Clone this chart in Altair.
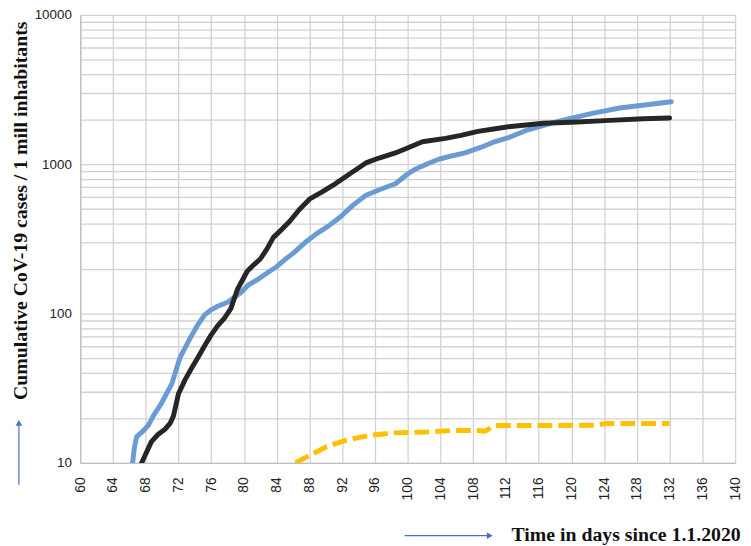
import altair as alt
import pandas as pd

# ---- data ----
BLUE_DAYS = [66.4, 66.6, 66.9, 67.5, 68.3, 69.0, 69.9, 71.2, 72.2, 73.4, 74.3, 75.2, 76.0, 76.8,
             78.0, 79.6, 80.5, 81.6, 83.0, 84.0, 85.0, 86.0, 87.5, 88.9, 90.3, 91.7, 93.3, 94.9,
             96.7, 98.5, 100.0, 101.0, 102.5, 103.8, 105.5, 107.0, 109.0, 110.6, 112.5, 114.7,
             117.5, 119.9, 122.7, 125.9, 129.2, 132.2]
BLUE_VALUES = [10, 12.5, 15, 16, 17.8, 21, 25, 34, 51, 68, 83, 98, 106, 112,
               119, 138, 155, 168, 190, 206, 230, 253, 300, 343, 385, 440, 530, 620,
               680, 740, 860, 930, 1010, 1080, 1140, 1190, 1300, 1413, 1520, 1700,
               1880, 2030, 2200, 2380, 2500, 2620]

BLACK_DAYS = [67.5, 68.0, 68.7, 69.5, 70.4, 71.0, 71.4, 72.0, 72.8, 73.6, 74.4, 75.2, 76.0,
              76.8, 77.6, 78.4, 79.2, 80.4, 81.2, 82.0, 82.8, 83.6, 84.6, 85.6, 86.8, 88.1,
              89.5, 90.9, 92.9, 94.9, 96.5, 98.5, 100.2, 101.8, 104.6, 106.5, 108.6, 110.5,
              112.6, 116.6, 120.7, 124.7, 128.8, 132.0]
BLACK_VALUES = [10, 11.5, 13.9, 15.5, 16.9, 18.5, 20.7, 29, 36, 43, 51, 61, 72,
                83, 93, 108, 145, 192, 212, 232, 270, 324, 365, 415, 500, 589,
                650, 724, 860, 1020, 1100, 1190, 1300, 1413, 1490, 1560, 1660, 1720,
                1790, 1883, 1920, 1965, 2015, 2040]

YELLOW_DAYS = [86.3, 88.1, 90.1, 92.5, 95.3, 98.2, 102.2, 105.4, 108.5, 109.5, 110.3, 111.0,
               115.0, 123.0, 124.3, 132.0]
YELLOW_VALUES = [10, 11.3, 12.85, 14.2, 15.3, 15.9, 16.1, 16.5, 16.5, 16.3, 17.5, 17.8,
                 17.8, 17.9, 18.4, 18.4]

X_TICKS = list(range(60, 141, 4))
Y_TICKS = [10, 20, 30, 40, 50, 60, 70, 80, 90,
           100, 200, 300, 400, 500, 600, 700, 800, 900,
           1000, 2000, 3000, 4000, 5000, 6000, 7000, 8000, 9000, 10000]
Y_LABELS = [10, 100, 1000, 10000]

Y_TITLE = "Cumulative CoV-19 cases / 1 mill inhabitants"
X_TITLE = "Time in days since 1.1.2020"

GRID = "#d2d2d2"
LABEL_FONT = "Liberation Sans"
TITLE_FONT = "Liberation Serif"
ARROW = "#4472c4"

x_enc = alt.X(
    "day:Q",
    scale=alt.Scale(domain=[60, 140], nice=False, zero=False),
    axis=alt.Axis(values=X_TICKS, labelAngle=-90, ticks=False, grid=True,
                  gridColor=GRID, gridWidth=1.3, domainColor="#bfbfbf", domainWidth=1.3,
                  labelFont=LABEL_FONT, labelFontSize=14, labelColor="#222222",
                  labelPadding=14, labelFlush=False, labelOverlap=False, title=None),
)
label_expr = "indexof(" + str(Y_LABELS) + ", datum.value) >= 0 ? format(datum.value, 'd') : ''"
y_enc = alt.Y(
    "value:Q",
    scale=alt.Scale(type="log", domain=[10, 10000], nice=False),
    axis=alt.Axis(values=Y_TICKS, ticks=False, grid=True, gridColor=GRID, gridWidth=1.3,
                  domainColor="#bfbfbf", domainWidth=1.3, labelExpr=label_expr,
                  labelFont=LABEL_FONT, labelFontSize=13.5, labelColor="#222222",
                  labelPadding=9, labelFlush=False, labelOverlap=False, title=None),
)


def series(days, values, color, dash=None):
    df = pd.DataFrame({"day": days, "value": values})
    kw = dict(color=color, strokeWidth=5, clip=True, strokeJoin="round")
    if dash:
        kw["strokeDash"] = dash
        kw["strokeCap"] = "butt"
    else:
        kw["strokeCap"] = "round"
    return alt.Chart(df).mark_line(**kw).encode(x=x_enc, y=y_enc)


blue = series(BLUE_DAYS, BLUE_VALUES, "#6a9bd3")
black = series(BLACK_DAYS, BLACK_VALUES, "#262626")
yellow = series(YELLOW_DAYS, YELLOW_VALUES, "#ffc000", dash=[15, 6])

one = pd.DataFrame({"t": [0]})

y_title = alt.Chart(pd.DataFrame({"t": [Y_TITLE]})).mark_text(
    font=TITLE_FONT, fontWeight="bold", fontSize=20, angle=270,
    align="center", baseline="alphabetic", color="#111111"
).encode(text="t:N", x=alt.value(-54), y=alt.value(198))

x_title = alt.Chart(pd.DataFrame({"t": [X_TITLE]})).mark_text(
    font=TITLE_FONT, fontWeight="bold", fontSize=20, align="left",
    baseline="alphabetic", color="#111111"
).encode(text="t:N", x=alt.value(436), y=alt.value(532))

y_arrow_line = alt.Chart(one).mark_rule(color=ARROW, strokeWidth=1.2).encode(
    x=alt.value(-62), y=alt.value(475), y2=alt.value(414))
y_arrow_head = alt.Chart(one).mark_point(
    shape="triangle-up", filled=True, color=ARROW, opacity=1, size=45).encode(
    x=alt.value(-62), y=alt.value(412.5))

x_arrow_line = alt.Chart(one).mark_rule(color=ARROW, strokeWidth=1.2).encode(
    x=alt.value(328), x2=alt.value(412), y=alt.value(526.5))
x_arrow_head = alt.Chart(one).mark_point(
    shape="triangle-right", filled=True, color=ARROW, opacity=1, size=45).encode(
    x=alt.value(414), y=alt.value(526.5))

chart = alt.layer(
    blue, black, yellow, y_title, x_title,
    y_arrow_line, y_arrow_head, x_arrow_line, x_arrow_head
).properties(
    width=662, height=453,
    autosize=alt.AutoSizeParams(type="none"),
    padding={"left": 73, "top": 4, "right": 8, "bottom": 80},
    background="white",
).configure_view(strokeWidth=0)

chart.save("out.html", embed_options={"renderer": "svg", "actions": False})
